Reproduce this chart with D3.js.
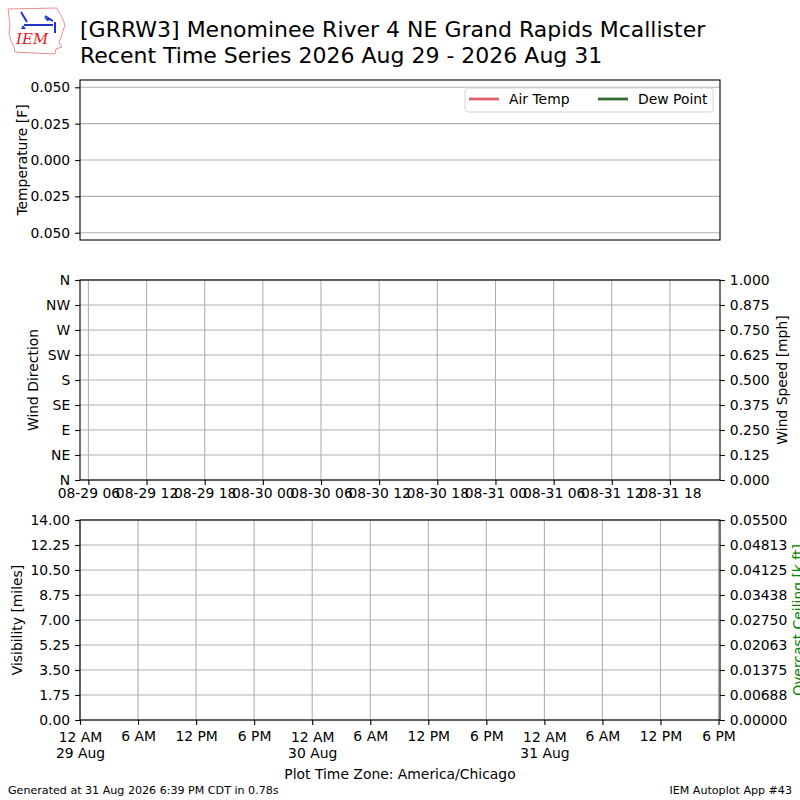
<!DOCTYPE html>
<html>
<head>
<meta charset="utf-8">
<script src="https://cdn.jsdelivr.net/npm/d3@7"></script>
<style>
  body { margin: 0; background: #fff; }
  svg text { font-family: "DejaVu Sans", sans-serif; fill: #000; }
</style>
</head>
<body>
<div id="chart"></div>
<script>
// chart text
var titleLines = ["[GRRW3] Menominee River 4 NE Grand Rapids Mcallister",
                  "Recent Time Series 2026 Aug 29 - 2026 Aug 31"];
var footerLeft = "Generated at 31 Aug 2026 6:39 PM CDT in 0.78s";
var footerRight = "IEM Autoplot App #43";
var timeZoneLabel = "Plot Time Zone: America/Chicago";

// temperature panel (no data)
var tempDomain = [-0.055, 0.055];
var tempTicks = [0.05, 0.025, 0, -0.025, -0.05];
var legendNames = ["Air Temp", "Dew Point"];
var legendColors = ["#e0606c", "#336b33"];

// wind panel (no data)
var dirDomain = [0, 360];
var dirTicks = [0, 45, 90, 135, 180, 225, 270, 315, 360];
var dirLabels = ["N", "NE", "E", "SE", "S", "SW", "W", "NW", "N"];
var speedDomain = [0, 1];
var speedTicks = [0, 0.125, 0.25, 0.375, 0.5, 0.625, 0.75, 0.875, 1];
var windTimeDomain = [Date.UTC(2026, 7, 29, 5, 8), Date.UTC(2026, 7, 31, 23, 10)];

// visibility / ceiling panel (no data)
var visDomain = [0, 14];
var visTicks = [0, 1.75, 3.5, 5.25, 7, 8.75, 10.5, 12.25, 14];
var ceilDomain = [0, 0.055];
var ceilTicks = [0, 0.006875, 0.01375, 0.020625, 0.0275, 0.034375, 0.04125, 0.048125, 0.055];
var ceilLabels = ["0.00000", "0.00688", "0.01375", "0.02063", "0.02750",
                  "0.03438", "0.04125", "0.04813", "0.05500"];
var localTimeDomain = [Date.UTC(2026, 7, 29, 0, 0), Date.UTC(2026, 7, 31, 18, 9)];

var w = 800, h = 800;
var left = 80, right = 720;
var fs = 13.9;

var svg = d3.select("#chart").append("svg")
  .attr("width", w).attr("height", h)
  .attr("viewBox", "0 0 " + w + " " + h);

// logo (rough IEM mark)
var logo = svg.append("g").attr("transform", "translate(7,7)");
logo.append("path")
  .attr("d", "M1,2 L50,1 L52,6 L55,10 L58,18 L56,24 L54,30 L52,36 L55,40 L49,42 L48,47 L8,45 L7,40 L4,34 L2,26 L3,18 L2,10 Z")
  .attr("fill", "none").attr("stroke", "#e87070").attr("stroke-width", 0.8);
logo.append("path")
  .attr("d", "M17,18 L46,18 M14,5 L20,15 M38,9 L46,14 M48,15 L48,26")
  .attr("stroke", "#2233cc").attr("stroke-width", 2).attr("fill", "none");
logo.append("path")
  .attr("d", "M16,18 L19,22 L14,22 Z M37,10 L44,13 L40,14 Z")
  .attr("fill", "#2233cc");
logo.append("text").attr("x", 9).attr("y", 37)
  .style("font-family", "'DejaVu Serif', 'Liberation Serif', serif")
  .style("font-style", "italic").style("font-size", "15px")
  .style("fill", "#dd2222").text("IEM");

// title
svg.selectAll(".title").data(titleLines).enter().append("text")
  .attr("class", "title")
  .attr("x", 80).attr("y", function(d, i) { return 37 + i * 26; })
  .style("font-size", "22px")
  .text(function(d) { return d; });

function gridY(g, scale, ticks) {
  g.selectAll(".gy").data(ticks).enter().append("line")
    .attr("x1", left).attr("x2", right)
    .attr("y1", function(d) { return scale(d); })
    .attr("y2", function(d) { return scale(d); })
    .attr("stroke", "#b0b0b0").attr("stroke-width", 1.1);
}
function gridX(g, scale, ticks, top, bottom) {
  g.selectAll(".gx").data(ticks).enter().append("line")
    .attr("y1", top).attr("y2", bottom)
    .attr("x1", function(d) { return scale(d); })
    .attr("x2", function(d) { return scale(d); })
    .attr("stroke", "#b0b0b0").attr("stroke-width", 1.1);
}
function frame(top, bottom) {
  svg.append("rect").attr("x", left).attr("y", top)
    .attr("width", right - left).attr("height", bottom - top)
    .attr("fill", "none").attr("stroke", "#000").attr("stroke-width", 1.1);
}
function styleAxis(g) {
  g.select(".domain").remove();
  g.selectAll(".tick line").attr("stroke", "#000").attr("stroke-width", 1.1);
  g.selectAll(".tick text").style("font-size", fs + "px")
    .style("font-family", "'DejaVu Sans', sans-serif").attr("fill", "#000");
}

// ---- temperature panel
var t0 = 80, t1 = 240;
var yTemp = d3.scaleLinear().domain(tempDomain).range([t1, t0]);
gridY(svg.append("g"), yTemp, tempTicks);
svg.append("g").attr("transform", "translate(" + left + ",0)")
  .call(d3.axisLeft(yTemp).tickValues(tempTicks).tickSize(4.9).tickPadding(4.9)
    .tickFormat(function(d) { return d3.format(".3f")(Math.abs(d)); }))
  .call(styleAxis);
frame(t0, t1);
svg.append("text").attr("transform", "translate(26.5," + ((t0 + t1) / 2) + ") rotate(-90)")
  .attr("text-anchor", "middle").style("font-size", fs + "px").text("Temperature [F]");

// legend
var lg = svg.append("g");
lg.append("rect").attr("x", 465).attr("y", 88).attr("width", 248).attr("height", 24)
  .attr("rx", 3).attr("fill", "#fff").attr("fill-opacity", 0.8)
  .attr("stroke", "#d6d6d6").attr("stroke-width", 1);
var lgX = [469, 598];
legendNames.forEach(function(name, i) {
  lg.append("line").attr("x1", lgX[i]).attr("x2", lgX[i] + 30)
    .attr("y1", 99).attr("y2", 99)
    .attr("stroke", legendColors[i]).attr("stroke-width", 2.8);
  lg.append("text").attr("x", lgX[i] + 40).attr("y", 104)
    .style("font-size", fs + "px").text(name);
});

// ---- wind panel
var m0 = 280, m1 = 480;
var xWind = d3.scaleUtc().domain(windTimeDomain).range([left, right]);
var yDir = d3.scaleLinear().domain(dirDomain).range([m1, m0]);
var ySpeed = d3.scaleLinear().domain(speedDomain).range([m1, m0]);
var windTicks = xWind.ticks(d3.utcHour.every(6));
var wg = svg.append("g");
gridY(wg, yDir, dirTicks);
gridX(wg, xWind, windTicks, m0, m1);
svg.append("g").attr("transform", "translate(" + left + ",0)")
  .call(d3.axisLeft(yDir).tickValues(dirTicks).tickSize(4.9).tickPadding(4.9)
    .tickFormat(function(d, i) { return dirLabels[i]; }))
  .call(styleAxis);
svg.append("g").attr("transform", "translate(" + right + ",0)")
  .call(d3.axisRight(ySpeed).tickValues(speedTicks).tickSize(4.9).tickPadding(4.9)
    .tickFormat(d3.format(".3f")))
  .call(styleAxis);
svg.append("g").attr("transform", "translate(0," + m1 + ")")
  .call(d3.axisBottom(xWind).tickValues(windTicks).tickSize(4.9).tickPadding(3)
    .tickFormat(d3.utcFormat("%m-%d %H")))
  .call(styleAxis);
frame(m0, m1);
svg.append("text").attr("transform", "translate(37.5," + ((m0 + m1) / 2) + ") rotate(-90)")
  .attr("text-anchor", "middle").style("font-size", fs + "px").text("Wind Direction");
svg.append("text").attr("transform", "translate(786.5," + ((m0 + m1) / 2) + ") rotate(-90)")
  .attr("text-anchor", "middle").style("font-size", fs + "px").text("Wind Speed [mph]");

// ---- visibility panel
var b0 = 520, b1 = 720;
var xLocal = d3.scaleUtc().domain(localTimeDomain).range([left, right]);
var yVis = d3.scaleLinear().domain(visDomain).range([b1, b0]);
var yCeil = d3.scaleLinear().domain(ceilDomain).range([b1, b0]);
var localTicks = xLocal.ticks(d3.utcHour.every(6));
var vg = svg.append("g");
gridY(vg, yVis, visTicks);
gridX(vg, xLocal, localTicks, b0, b1);
svg.append("g").attr("transform", "translate(" + left + ",0)")
  .call(d3.axisLeft(yVis).tickValues(visTicks).tickSize(4.9).tickPadding(4.9)
    .tickFormat(d3.format(".2f")))
  .call(styleAxis);
svg.append("g").attr("transform", "translate(" + right + ",0)")
  .call(d3.axisRight(yCeil).tickValues(ceilTicks).tickSize(4.9).tickPadding(4.9)
    .tickFormat(function(d, i) { return ceilLabels[i]; }))
  .call(styleAxis);
var xb = svg.append("g").attr("transform", "translate(0," + b1 + ")")
  .call(d3.axisBottom(xLocal).tickValues(localTicks).tickSize(4.9).tickFormat(""))
  .call(styleAxis);
var fmtHour = d3.utcFormat("%-I %p"), fmtDay = d3.utcFormat("%d %b");
xb.selectAll(".tick").each(function(d) {
  var t = d3.select(this).append("text").attr("text-anchor", "middle")
    .style("font-size", fs + "px");
  if (d.getUTCHours() === 0) {
    t.append("tspan").attr("x", 0).attr("y", 22).text(fmtHour(d));
    t.append("tspan").attr("x", 0).attr("y", 37.5).text(fmtDay(d));
  } else {
    t.attr("y", 20.5).text(fmtHour(d));
  }
});
frame(b0, b1);
svg.append("text").attr("transform", "translate(22," + ((b0 + b1) / 2) + ") rotate(-90)")
  .attr("text-anchor", "middle").style("font-size", fs + "px").text("Visibility [miles]");
svg.append("text").attr("transform", "translate(803," + ((b0 + b1) / 2) + ") rotate(-90)")
  .attr("text-anchor", "middle").style("font-size", fs + "px").style("fill", "#008000")
  .text("Overcast Ceiling [k ft]");

svg.append("text").attr("x", 400).attr("y", 779).attr("text-anchor", "middle")
  .style("font-size", fs + "px").text(timeZoneLabel);

// footer
svg.append("text").attr("x", 8).attr("y", 794).style("font-size", "11.1px").text(footerLeft);
svg.append("text").attr("x", 792).attr("y", 794).attr("text-anchor", "end")
  .style("font-size", "11.1px").text(footerRight);
</script>
</body>
</html>
